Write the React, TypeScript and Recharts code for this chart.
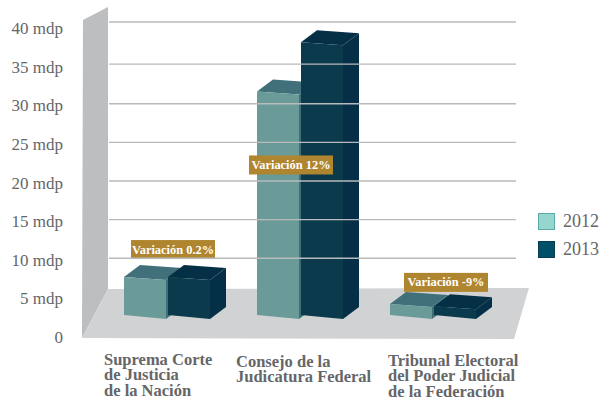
import { BarChart, Bar, XAxis, YAxis, ReferenceDot } from "recharts";

const categories = [
  "Suprema Corte de Justicia de la Nación",
  "Consejo de la Judicatura Federal",
  "Tribunal Electoral del Poder Judicial de la Federación",
];
const categoryLines = [
  ["Suprema Corte", "de Justicia", "de la Nación"],
  ["Consejo de la", "Judicatura Federal"],
  ["Tribunal Electoral", "del Poder Judicial", "de la Federación"],
];
const values2012 = [7.9, 31.9, 4.4];
const values2013 = [7.9, 38.3, 4.1];
const yTicks = [0, 5, 10, 15, 20, 25, 30, 35, 40];
const variationLabels = ["Variación 0.2%", "Variación 12%", "Variación -9%"];
const variationValues = [11.45, 22.4, 7.2];

const data = categories.map((name, i) => ({
  name,
  y2012: values2012[i],
  y2013: values2013[i],
}));

const FONT = '"Liberation Serif", serif';
const TEXT = "#656668";
const GRID = "#b9babc";
const LIGHT = { front: "#6b9b98", top: "#41707a", side: "#3f6f76" };
const DARK = { front: "#0a3a4c", top: "#052f45", side: "#042f46" };
const SWATCHES = [
  { label: "2012", fill: "#97d6cf", stroke: "#5aa9a9" },
  { label: "2013", fill: "#01506a", stroke: "#0a3d50" },
];

// bars stand on the floor, 20px above the axis zero line
const FLOOR_LIFT = 20;
const DEPTH_X = 16;
const DEPTH_Y = 12;

function pts(list: number[][]) {
  return list.map((p) => p.join(",")).join(" ");
}

function Box3D({ x, y, width, height, colors }: any) {
  const base = y + height - FLOOR_LIFT;
  const r = x + width;
  const fl = [x, y];
  const fr = [r, y + 3];
  const bl = [x, base - 3];
  const br = [r, base + 1];
  const shift = (p: number[]) => [p[0] + DEPTH_X, p[1] - DEPTH_Y];
  return (
    <g>
      <polygon points={pts([fr, shift(fr), shift(br), br])} fill={colors.side} />
      <polygon points={pts([fl, shift(fl), shift(fr), fr])} fill={colors.top} />
      <polygon points={pts([fl, fr, br, bl])} fill={colors.front} />
    </g>
  );
}

function YTick({ y, payload }: any) {
  const v = payload.value;
  const nudge = v === 40 ? 7 : v === 35 ? 3.5 : 2.5;
  return (
    <g>
      {v >= 10 && (
        <line x1={109} x2={516} y1={y - nudge} y2={y - nudge} stroke={GRID} strokeWidth={1.3} />
      )}
      <text x={63} y={y + 5} textAnchor="end" fontFamily={FONT} fontSize={17} fill={TEXT}>
        {v === 0 ? "0" : `${v} mdp`}
      </text>
    </g>
  );
}

const tickLeft = [104, 236, 388];
const tickTop = [365, 367, 366];

function XTick({ payload, index }: any) {
  const lines = categoryLines[index] ?? [String(payload.value)];
  return (
    <text fontFamily={FONT} fontSize={16.5} fontWeight="bold" fill={TEXT}>
      {lines.map((line, i) => (
        <tspan key={line} x={tickLeft[index]} y={tickTop[index] + i * 15.3}>
          {line}
        </tspan>
      ))}
    </text>
  );
}

function Badge({ cx, cy, label, dx }: any) {
  return (
    <g>
      <rect x={cx + dx - 42} y={cy - 9.5} width={84} height={19} fill="#b08530" />
      <text
        x={cx + dx}
        y={cy + 4}
        textAnchor="middle"
        fontFamily={FONT}
        fontSize={12.4}
        fontWeight="bold"
        fill="#fff"
      >
        {label}
      </text>
    </g>
  );
}

const badgeShift = [6.5, -8.5, 13.5];

function ChartLegend() {
  return (
    <div style={{ position: "absolute", left: 538, top: 207 }}>
      {SWATCHES.map((s) => (
        <div key={s.label} style={{ display: "flex", alignItems: "center", height: 28 }}>
          <span
            style={{
              width: 15,
              height: 15,
              background: s.fill,
              border: `1px solid ${s.stroke}`,
              marginRight: 8,
            }}
          />
          <span style={{ fontFamily: FONT, fontSize: 18, color: TEXT }}>{s.label}</span>
        </div>
      ))}
    </div>
  );
}

export default function App() {
  return (
    <div style={{ position: "absolute", left: 0, top: 0, width: 599, height: 400, background: "#fff" }}>
      <svg width={599} height={400} style={{ position: "absolute", left: 0, top: 0 }}>
        <polygon points="83,20 108,7 108,289 82,338" fill="#bdbec0" />
        <polygon points="82,338 108,289 529,288 514,339" fill="#d1d2d4" />
      </svg>
      <div style={{ position: "absolute", left: 0, top: 0 }}>
        <BarChart
          width={599}
          height={400}
          data={data}
          margin={{ top: 29, right: 100, bottom: 0, left: 0 }}
          barSize={42}
          barGap={2}
          barCategoryGap={0}
        >
          <XAxis dataKey="name" axisLine={false} tickLine={false} interval={0} tick={<XTick />} height={62} />
          <YAxis
            domain={[0, 40]}
            ticks={yTicks}
            width={100}
            axisLine={false}
            tickLine={false}
            interval={0}
            tick={<YTick />}
          />
          <Bar
            dataKey="y2012"
            isAnimationActive={false}
            shape={(p: any) => <Box3D {...p} colors={LIGHT} />}
          />
          <Bar
            dataKey="y2013"
            isAnimationActive={false}
            shape={(p: any) => <Box3D {...p} colors={DARK} />}
          />
          {categories.map((c, i) => (
            <ReferenceDot
              key={c}
              x={c}
              y={variationValues[i]}
              r={0}
              shape={(p: any) => <Badge {...p} label={variationLabels[i]} dx={badgeShift[i]} />}
            />
          ))}
        </BarChart>
      </div>
      <ChartLegend />
    </div>
  );
}
